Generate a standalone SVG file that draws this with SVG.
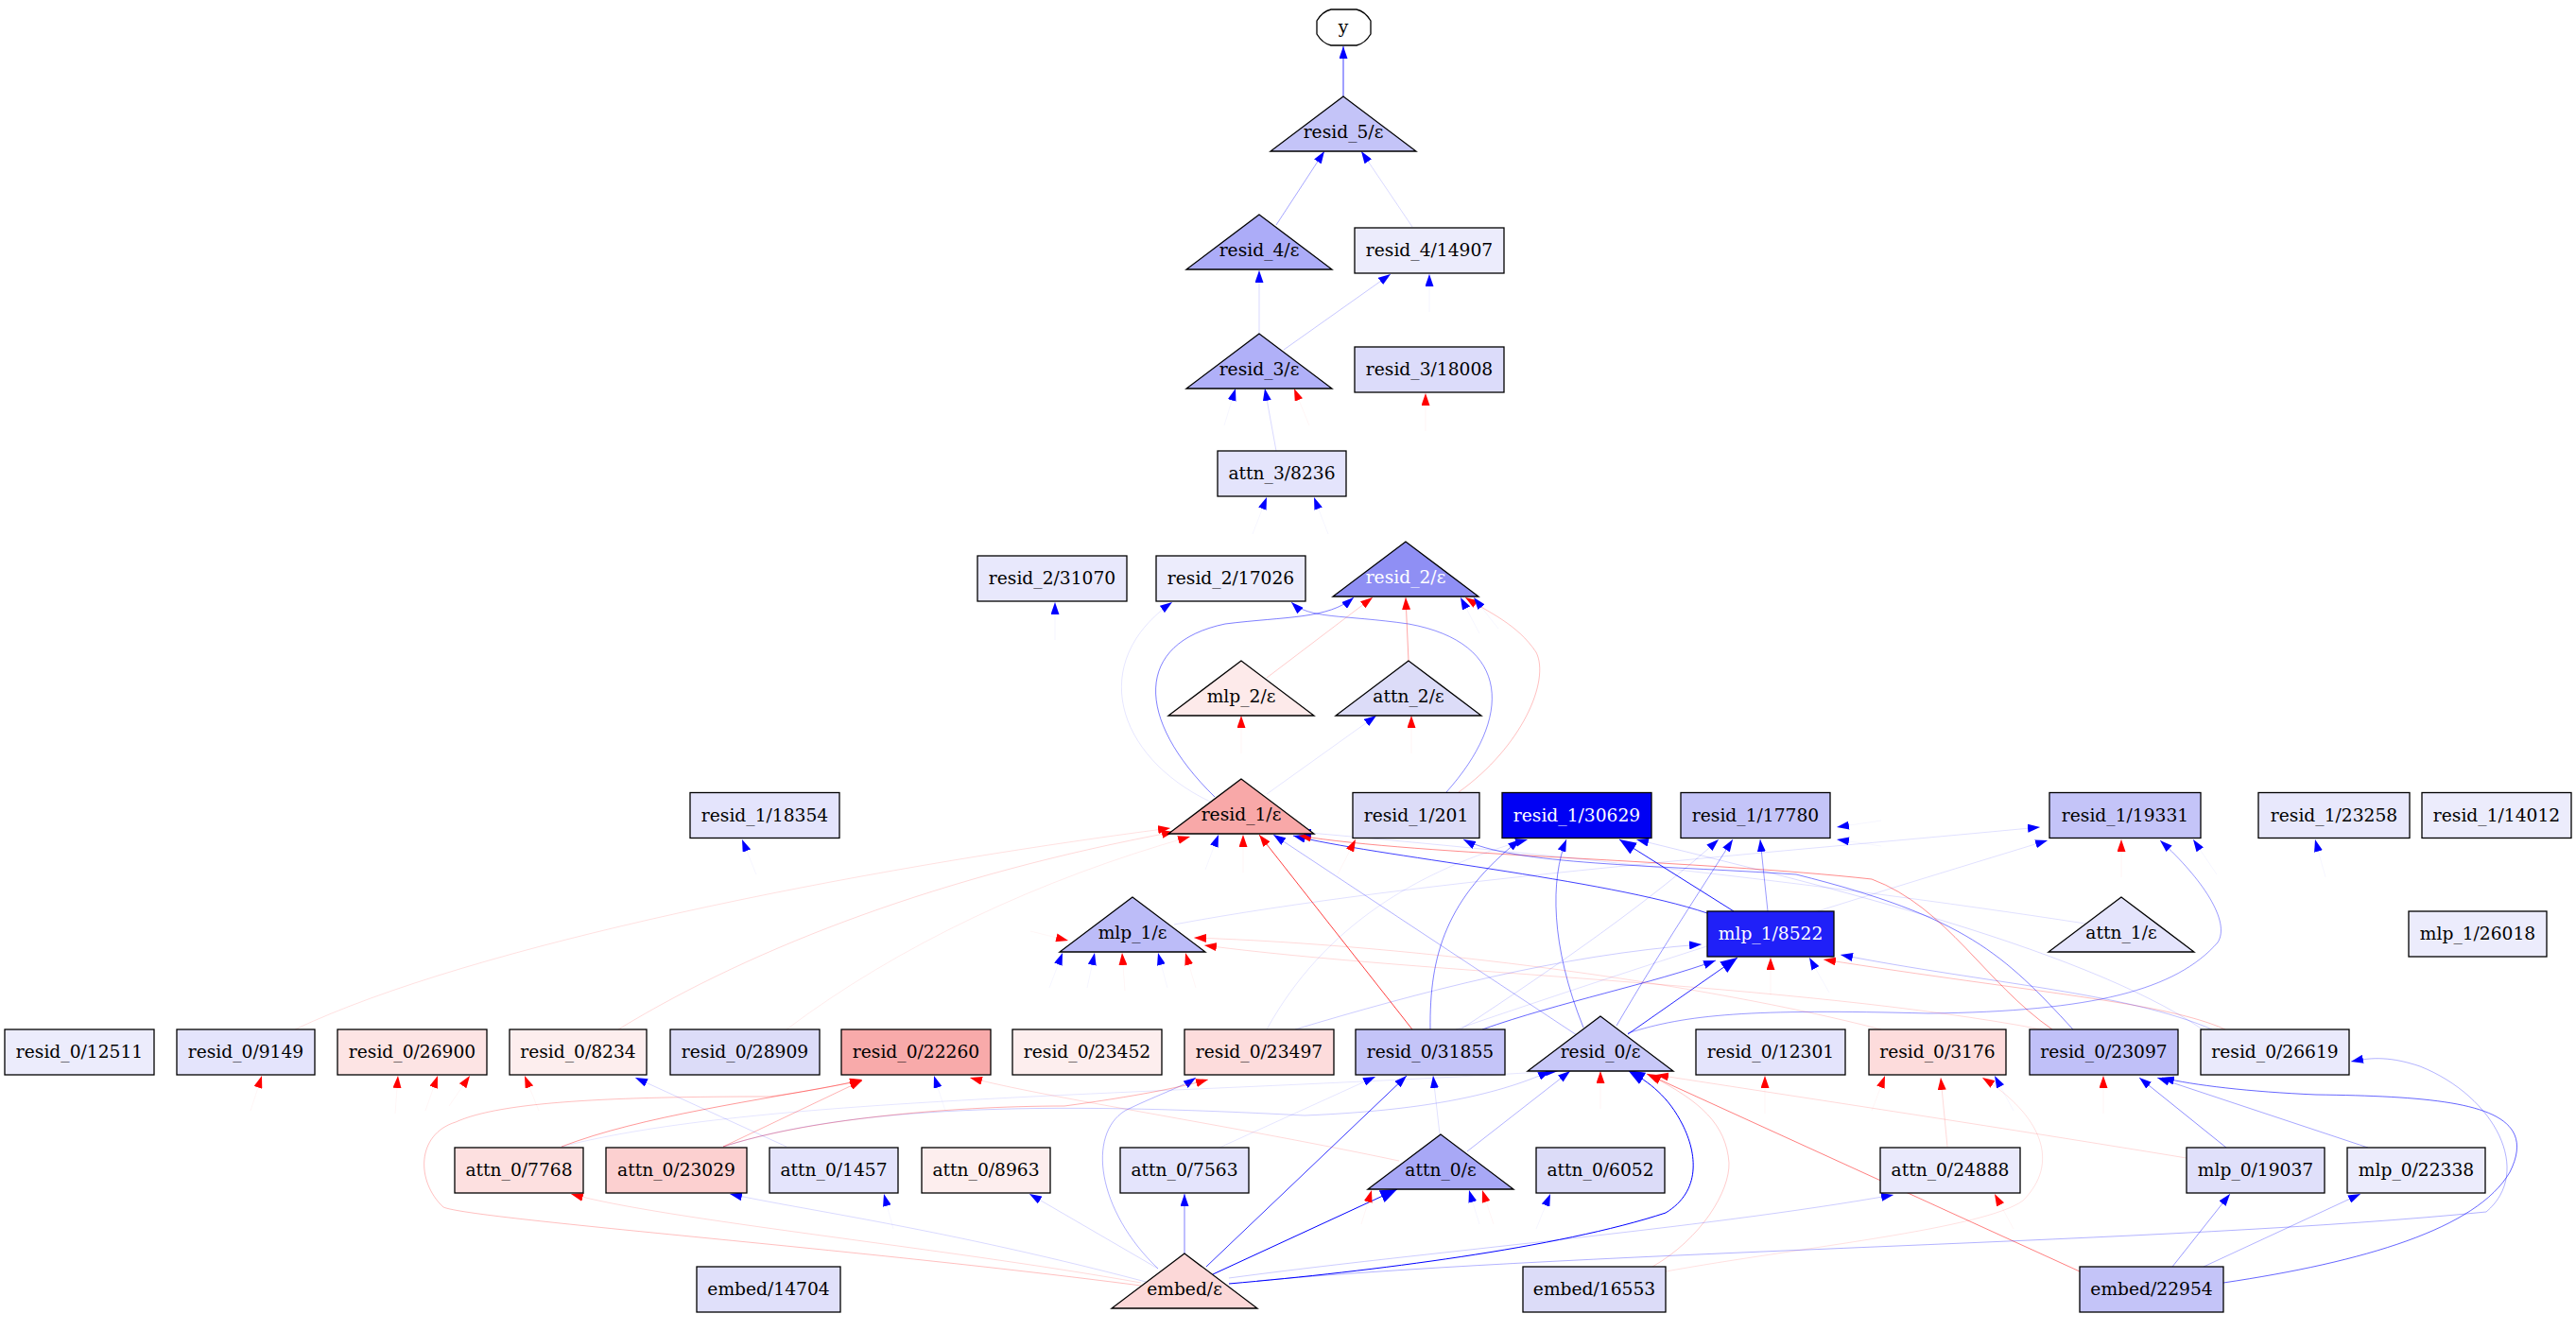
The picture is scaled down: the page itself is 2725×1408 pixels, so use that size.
<svg xmlns="http://www.w3.org/2000/svg" width="2725" height="1408" viewBox="0 0 2725 1408">
<style>
text{font-family:"DejaVu Serif","Liberation Serif",serif;font-size:18.67px;text-anchor:middle;fill:#000}
text.w{fill:#fff}
.n rect,.n polygon,.n path{stroke:#000;stroke-width:1.3}
.e path{fill:none;stroke-width:1}
.b{stroke:#00f;marker-end:url(#ab)}
.r{stroke:#f00;marker-end:url(#ar)}
.bt{stroke:#00f;marker-end:url(#abL)}
.g{stroke-opacity:0.04}
</style>
<defs>
<marker id="ab" viewBox="0 0 13 9" refX="13" refY="4.5" markerWidth="13" markerHeight="9" orient="auto" markerUnits="userSpaceOnUse"><path d="M0,0L13,4.5L0,9z" fill="#00f"/></marker>
<marker id="ar" viewBox="0 0 13 9" refX="13" refY="4.5" markerWidth="13" markerHeight="9" orient="auto" markerUnits="userSpaceOnUse"><path d="M0,0L13,4.5L0,9z" fill="#f00"/></marker>
<marker id="abL" viewBox="0 0 18 14" refX="18" refY="7" markerWidth="18" markerHeight="14" orient="auto" markerUnits="userSpaceOnUse"><path d="M0,0L18,7L0,14z" fill="#00f"/></marker>
</defs>
<rect width="2725" height="1408" fill="#fff"/>
<g id="edges" class="e">
<path class="b" stroke-opacity="0.75" d="M1421,102L1421,49"/>
<path class="b" stroke-opacity="0.35" d="M1350,238L1401,160"/>
<path class="b" stroke-opacity="0.15" d="M1494,240L1440,160"/>
<path class="b" stroke-opacity="0.15" d="M1332,353L1332,286"/>
<path class="b" stroke-opacity="0.22" d="M1358,370L1471,290"/>
<path class="b" stroke-opacity="0.15" d="M1350,477L1338,411"/>
<path class="b" stroke-opacity="0.1" d="M1280,848C1180,800 1150,700 1240,637"/>
<path class="b" stroke-opacity="0.45" d="M1530,838C1600,760 1600,680 1490,660C1420,650 1385,655 1366,637"/>
<path class="b" stroke-opacity="0.5" d="M1285,843C1200,760 1200,680 1296,660C1360,652 1405,655 1432,632"/>
<path class="r" stroke-opacity="0.2" d="M1340,717L1452,632"/>
<path class="r" stroke-opacity="0.35" d="M1490,699L1487,632"/>
<path class="r" stroke-opacity="0.25" d="M1543,838C1610,790 1640,720 1625,690C1605,660 1575,648 1550,632"/>
<path class="b" stroke-opacity="0.1" d="M1340,840L1456,757"/>
<path class="r" stroke-opacity="0.12" d="M312,1089C500,1000 900,920 1238,876"/>
<path class="r" stroke-opacity="0.15" d="M654,1089C800,1000 1000,925 1242,880"/>
<path class="r" stroke-opacity="0.08" d="M832,1089C950,1000 1100,930 1259,885"/>
<path class="r" stroke-opacity="0.75" d="M1494,1089L1332,883"/>
<path class="b" stroke-opacity="0.3" d="M1668,1095L1347,883"/>
<path class="b" stroke-opacity="0.75" stroke-width="1.3" d="M1806,966C1700,930 1450,905 1368,884"/>
<path class="r" stroke-opacity="0.45" d="M2171,1089C2100,1040 2060,960 1980,930C1800,910 1500,905 1374,884"/>
<path class="r" stroke-opacity="0.25" d="M2354,1089C2290,1060 2150,1050 1929,1015"/>
<path class="b" stroke-opacity="0.25" d="M2340,1089C2250,1050 2100,1040 1947,1010"/>
<path class="b" stroke-opacity="0.4" d="M1722,1093C1784,1073 1851,1067 2040,1072C2215,1070 2302,1047 2346,997C2360,975 2330,930 2285,889"/>
<path class="b" stroke-opacity="0.12" d="M1242,978C1500,930 1900,900 2158,875"/>
<path class="b" stroke-opacity="0.12" d="M1540,1089C1800,1000 2000,940 2166,889"/>
<path class="b" stroke-opacity="0.5" d="M1513,1089C1512,1010 1530,950 1608,888"/>
<path class="b" stroke-opacity="0.1" d="M1340,1089C1400,980 1500,920 1616,888"/>
<path class="b" stroke-opacity="0.5" d="M1675,1087C1640,1000 1640,930 1657,888"/>
<path class="bt" stroke-opacity="0.9" stroke-width="2.5" d="M1834,964L1713,888"/>
<path class="b" stroke-opacity="0.15" d="M2330,1089C2200,1000 1900,930 1731,888"/>
<path class="b" stroke-opacity="0.5" d="M2193,1089C2120,1010 2080,970 1900,925C1750,915 1600,915 1548,888"/>
<path class="b" stroke-opacity="0.15" d="M1545,1089C1650,1020 1750,950 1818,888"/>
<path class="b" stroke-opacity="0.4" d="M1710,1085C1760,1000 1800,940 1833,888"/>
<path class="b" stroke-opacity="0.4" d="M1870,964L1862,888"/>
<path class="bt" stroke-opacity="0.85" stroke-width="2" d="M1722,1094L1838,1013"/>
<path class="b" stroke-opacity="0.6" d="M1568,1089C1650,1060 1750,1040 1815,1016"/>
<path class="b" stroke-opacity="0.2" d="M1370,1089C1500,1050 1650,1010 1800,999"/>
<path class="b" stroke-opacity="0.8" stroke-width="1.5" d="M1276,1340L1488,1138"/>
<path class="b" stroke-opacity="0.12" d="M1523,1200L1516,1138"/>
<path class="b" stroke-opacity="0.1" d="M1290,1214L1455,1139"/>
<path class="bt" stroke-width="3.5" d="M1300,1358C1450,1345 1650,1320 1762,1283C1800,1260 1795,1220 1780,1190C1765,1160 1745,1145 1722,1132"/>
<path class="b" stroke-opacity="0.3" d="M1552,1218L1661,1133"/>
<path class="b" stroke-opacity="0.2" d="M765,1213C900,1170 1100,1165 1380,1180C1500,1175 1580,1160 1640,1133"/>
<path class="b" stroke-opacity="0.1" d="M594,1213C800,1160 1200,1160 1648,1133"/>
<path class="r" stroke-opacity="0.2" d="M1748,1340C1800,1310 1830,1260 1829,1230C1826,1190 1800,1165 1744,1137"/>
<path class="r" stroke-opacity="0.5" d="M2200,1345L1742,1136"/>
<path class="r" stroke-opacity="0.15" d="M2313,1225C2100,1190 1900,1160 1752,1137"/>
<path class="r" stroke-opacity="0.15" d="M2060,1213L2053,1140"/>
<path class="r" stroke-opacity="0.12" d="M1762,1345C1900,1320 2100,1300 2140,1270C2180,1230 2160,1180 2097,1140"/>
<path class="b" stroke-opacity="0.45" d="M2355,1214L2263,1140"/>
<path class="b" stroke-opacity="0.35" d="M2505,1214L2282,1140"/>
<path class="b" stroke-opacity="0.6" d="M2352,1357C2500,1335 2620,1300 2655,1240C2690,1170 2600,1160 2450,1158C2380,1155 2320,1148 2287,1140"/>
<path class="b" stroke-opacity="0.3" d="M1330,1355C1700,1322 2300,1315 2630,1282C2680,1240 2640,1160 2560,1128C2530,1118 2510,1118 2487,1123"/>
<path class="b" stroke-opacity="0.4" d="M2298,1340L2359,1263"/>
<path class="b" stroke-opacity="0.3" d="M2331,1340L2497,1263"/>
<path class="b" stroke-opacity="0.2" d="M1300,1352C1500,1325 1800,1300 2003,1264"/>
<path class="bt" stroke-width="3.5" d="M1283,1348L1478,1258"/>
<path class="b" stroke-opacity="0.5" d="M1253,1326L1253,1263"/>
<path class="b" stroke-opacity="0.15" d="M1225,1342L1089,1263"/>
<path class="b" stroke-opacity="0.15" d="M1216,1357C1000,1300 850,1280 772,1263"/>
<path class="r" stroke-opacity="0.15" d="M1207,1357C1000,1320 700,1290 604,1263"/>
<path class="r" stroke-opacity="0.25" d="M1207,1360C900,1320 500,1290 469,1277C440,1250 440,1200 482,1187C530,1165 650,1160 814,1160C850,1155 880,1150 912,1142"/>
<path class="b" stroke-opacity="0.3" d="M1225,1342C1160,1280 1150,1200 1190,1175C1220,1160 1250,1150 1265,1140"/>
<path class="r" stroke-opacity="0.4" d="M594,1213C680,1180 800,1165 912,1143"/>
<path class="r" stroke-opacity="0.3" d="M765,1213L912,1143"/>
<path class="r" stroke-opacity="0.3" d="M765,1213C850,1185 1000,1170 1126,1170C1200,1160 1250,1150 1278,1142"/>
<path class="r" stroke-opacity="0.15" d="M1480,1228C1300,1190 1100,1160 1026,1140"/>
<path class="b" stroke-opacity="0.15" d="M832,1213L672,1140"/>
<path class="r" stroke-opacity="0.15" d="M1990,1089C1800,1040 1500,1000 1263,992"/>
<path class="r" stroke-opacity="0.15" d="M2160,1089C1900,1040 1500,1030 1274,1000"/>
<path class="b" stroke-opacity="0.12" d="M2206,977C1900,930 1600,900 1374,880"/>
<path class="b g" d="M1512,330L1512,290"/>
<path class="r g" d="M1508,456L1508,416"/>
<path class="b g" d="M1295,450L1307,411"/>
<path class="r g" d="M1385,450L1369,411"/>
<path class="b g" d="M1325,565L1340,526"/>
<path class="b g" d="M1405,565L1390,526"/>
<path class="b g" d="M1116,677L1116,637"/>
<path class="b g" d="M1565,670L1545,632"/>
<path class="b g" d="M1585,665L1559,632"/>
<path class="r g" d="M1493,797L1493,757"/>
<path class="r g" d="M1313,797L1313,757"/>
<path class="b g" d="M800,925L785,888"/>
<path class="b g" d="M1275,920L1289,883"/>
<path class="r g" d="M1315,923L1315,883"/>
<path class="r g" d="M1415,925L1434,888"/>
<path class="r g" d="M2244,928L2244,888"/>
<path class="b g" d="M2345,925L2320,888"/>
<path class="b g" d="M2460,928L2449,888"/>
<path class="b g" d="M1990,868L1943,875"/>
<path class="b g" d="M1990,895L1943,888"/>
<path class="r g" d="M1873,1053L1873,1013"/>
<path class="b g" d="M1935,1050L1914,1013"/>
<path class="r g" d="M1693,1173L1693,1133"/>
<path class="r g" d="M1867,1178L1867,1138"/>
<path class="r g" d="M1980,1175L1994,1138"/>
<path class="b g" d="M2130,1175L2110,1138"/>
<path class="r g" d="M2225,1178L2225,1138"/>
<path class="r g" d="M2130,1300L2110,1263"/>
<path class="b g" d="M1625,1300L1640,1263"/>
<path class="r g" d="M1440,1295L1451,1259"/>
<path class="b g" d="M1565,1295L1554,1259"/>
<path class="r g" d="M1580,1295L1568,1259"/>
<path class="b g" d="M945,1300L935,1263"/>
<path class="b g" d="M1000,1175L988,1138"/>
<path class="r g" d="M265,1175L277,1138"/>
<path class="r g" d="M418,1178L421,1138"/>
<path class="r g" d="M450,1175L463,1138"/>
<path class="r g" d="M475,1170L497,1138"/>
<path class="r g" d="M570,1175L555,1138"/>
<path class="r g" d="M1090,985L1130,995"/>
<path class="b g" d="M1110,1045L1124,1008"/>
<path class="b g" d="M1150,1045L1158,1008"/>
<path class="r g" d="M1190,1048L1187,1008"/>
<path class="b g" d="M1235,1045L1225,1008"/>
<path class="r g" d="M1265,1045L1254,1008"/>
</g>
<g class="n">
<g id="y"><path d="M1408,10L1435,10Q1444,12 1450,22L1450,36Q1444,46 1435,48L1408,48Q1399,46 1393,36L1393,22Q1399,12 1408,10Z" fill="#fff"/><text x="1421" y="35">y</text></g>
<g id="resid_5_eps"><polygon points="1421,102 1344,160 1498,160" fill="#c4c4f8"/><text x="1421" y="146">resid_5/ε</text></g>
<g id="resid_4_eps"><polygon points="1332,227 1255,285 1409,285" fill="#acacf8"/><text x="1332" y="271">resid_4/ε</text></g>
<g id="resid_4_14907"><rect x="1433" y="241" width="158" height="48" fill="#ececfc"/><text x="1512" y="271">resid_4/14907</text></g>
<g id="resid_3_eps"><polygon points="1332,353 1255,411 1409,411" fill="#b0b0f8"/><text x="1332" y="397">resid_3/ε</text></g>
<g id="resid_3_18008"><rect x="1433" y="367" width="158" height="48" fill="#dcdcfa"/><text x="1512" y="397">resid_3/18008</text></g>
<g id="attn_3_8236"><rect x="1288" y="477" width="136" height="48" fill="#e4e4fc"/><text x="1356" y="507">attn_3/8236</text></g>
<g id="resid_2_31070"><rect x="1034" y="588" width="158" height="48" fill="#e8e8fc"/><text x="1113" y="618">resid_2/31070</text></g>
<g id="resid_2_17026"><rect x="1223" y="588" width="158" height="48" fill="#ececfc"/><text x="1302" y="618">resid_2/17026</text></g>
<g id="resid_2_eps"><polygon points="1487,573 1410,631 1564,631" fill="#8f8ff4"/><text class="w" x="1487" y="617">resid_2/ε</text></g>
<g id="mlp_2_eps"><polygon points="1313,699 1236,757 1390,757" fill="#fdeaea"/><text x="1313" y="743">mlp_2/ε</text></g>
<g id="attn_2_eps"><polygon points="1490,699 1413,757 1567,757" fill="#dcdcf8"/><text x="1490" y="743">attn_2/ε</text></g>
<g id="resid_1_18354"><rect x="730" y="838.5" width="158" height="48" fill="#e4e4fc"/><text x="809" y="868.5">resid_1/18354</text></g>
<g id="resid_1_eps"><polygon points="1313,824 1236,882 1390,882" fill="#f8a8a8"/><text x="1313" y="868">resid_1/ε</text></g>
<g id="resid_1_201"><rect x="1431" y="838.5" width="134" height="48" fill="#dcdcf8"/><text x="1498" y="868.5">resid_1/201</text></g>
<g id="resid_1_30629"><rect x="1589" y="838.5" width="158" height="48" fill="#0000f4"/><text class="w" x="1668" y="868.5">resid_1/30629</text></g>
<g id="resid_1_17780"><rect x="1778" y="838.5" width="158" height="48" fill="#c4c4f8"/><text x="1857" y="868.5">resid_1/17780</text></g>
<g id="resid_1_19331"><rect x="2168" y="838.5" width="160" height="48" fill="#c4c4f8"/><text x="2248" y="868.5">resid_1/19331</text></g>
<g id="resid_1_23258"><rect x="2389" y="838.5" width="160" height="48" fill="#e8e8fc"/><text x="2469" y="868.5">resid_1/23258</text></g>
<g id="resid_1_14012"><rect x="2562" y="838.5" width="158" height="48" fill="#ececfc"/><text x="2641" y="868.5">resid_1/14012</text></g>
<g id="mlp_1_eps"><polygon points="1198,949 1121,1007 1275,1007" fill="#bcbcf8"/><text x="1198" y="993">mlp_1/ε</text></g>
<g id="mlp_1_8522"><rect x="1806" y="964" width="134" height="48" fill="#2020f8"/><text class="w" x="1873" y="994">mlp_1/8522</text></g>
<g id="attn_1_eps"><polygon points="2244,949 2167,1007 2321,1007" fill="#e4e4fc"/><text x="2244" y="993">attn_1/ε</text></g>
<g id="mlp_1_26018"><rect x="2548" y="964" width="146" height="48" fill="#ececfc"/><text x="2621" y="994">mlp_1/26018</text></g>
<g id="resid_0_12511"><rect x="5" y="1089" width="158" height="48" fill="#ececfc"/><text x="84" y="1119">resid_0/12511</text></g>
<g id="resid_0_9149"><rect x="187" y="1089" width="146" height="48" fill="#e4e4fc"/><text x="260" y="1119">resid_0/9149</text></g>
<g id="resid_0_26900"><rect x="357" y="1089" width="158" height="48" fill="#fde4e4"/><text x="436" y="1119">resid_0/26900</text></g>
<g id="resid_0_8234"><rect x="539" y="1089" width="145" height="48" fill="#fdeeee"/><text x="611.5" y="1119">resid_0/8234</text></g>
<g id="resid_0_28909"><rect x="709" y="1089" width="158" height="48" fill="#dcdcf8"/><text x="788" y="1119">resid_0/28909</text></g>
<g id="resid_0_22260"><rect x="890" y="1089" width="158" height="48" fill="#f8aaaa"/><text x="969" y="1119">resid_0/22260</text></g>
<g id="resid_0_23452"><rect x="1071" y="1089" width="158" height="48" fill="#fdeeee"/><text x="1150" y="1119">resid_0/23452</text></g>
<g id="resid_0_23497"><rect x="1253" y="1089" width="158" height="48" fill="#fddcdc"/><text x="1332" y="1119">resid_0/23497</text></g>
<g id="resid_0_31855"><rect x="1434" y="1089" width="158" height="48" fill="#c4c4f8"/><text x="1513" y="1119">resid_0/31855</text></g>
<g id="resid_0_eps"><polygon points="1693,1075 1616,1133 1770,1133" fill="#c8c8f8"/><text x="1693" y="1119">resid_0/ε</text></g>
<g id="resid_0_12301"><rect x="1794" y="1089" width="158" height="48" fill="#e4e4fc"/><text x="1873" y="1119">resid_0/12301</text></g>
<g id="resid_0_3176"><rect x="1977" y="1089" width="145" height="48" fill="#fddcdc"/><text x="2049.5" y="1119">resid_0/3176</text></g>
<g id="resid_0_23097"><rect x="2147" y="1089" width="157" height="48" fill="#c0c0f8"/><text x="2225.5" y="1119">resid_0/23097</text></g>
<g id="resid_0_26619"><rect x="2328" y="1089" width="157" height="48" fill="#eaeafc"/><text x="2406.5" y="1119">resid_0/26619</text></g>
<g id="attn_0_7768"><rect x="481" y="1214" width="136" height="48" fill="#fde0e0"/><text x="549" y="1244">attn_0/7768</text></g>
<g id="attn_0_23029"><rect x="641" y="1214" width="149" height="48" fill="#fcd0d0"/><text x="715.5" y="1244">attn_0/23029</text></g>
<g id="attn_0_1457"><rect x="814" y="1214" width="136" height="48" fill="#e4e4fc"/><text x="882" y="1244">attn_0/1457</text></g>
<g id="attn_0_8963"><rect x="975" y="1214" width="136" height="48" fill="#fdeeee"/><text x="1043" y="1244">attn_0/8963</text></g>
<g id="attn_0_7563"><rect x="1185" y="1214" width="136" height="48" fill="#e4e4fc"/><text x="1253" y="1244">attn_0/7563</text></g>
<g id="attn_0_eps"><polygon points="1524,1200 1447,1258 1601,1258" fill="#a8a8f6"/><text x="1524" y="1244">attn_0/ε</text></g>
<g id="attn_0_6052"><rect x="1625" y="1214" width="136" height="48" fill="#dcdcf8"/><text x="1693" y="1244">attn_0/6052</text></g>
<g id="attn_0_24888"><rect x="1989" y="1214" width="148" height="48" fill="#eaeafc"/><text x="2063" y="1244">attn_0/24888</text></g>
<g id="mlp_0_19037"><rect x="2313" y="1214" width="146" height="48" fill="#e0e0fa"/><text x="2386" y="1244">mlp_0/19037</text></g>
<g id="mlp_0_22338"><rect x="2483" y="1214" width="146" height="48" fill="#ececfc"/><text x="2556" y="1244">mlp_0/22338</text></g>
<g id="embed_14704"><rect x="737" y="1340" width="152" height="48" fill="#e0e0fa"/><text x="813" y="1370">embed/14704</text></g>
<g id="embed_eps"><polygon points="1253,1326 1176,1384 1330,1384" fill="#fcd8d8"/><text x="1253" y="1370">embed/ε</text></g>
<g id="embed_16553"><rect x="1611" y="1340" width="151" height="48" fill="#dcdcf8"/><text x="1686.5" y="1370">embed/16553</text></g>
<g id="embed_22954"><rect x="2200" y="1340" width="152" height="48" fill="#c4c4f8"/><text x="2276" y="1370">embed/22954</text></g>
</g>
</svg>
